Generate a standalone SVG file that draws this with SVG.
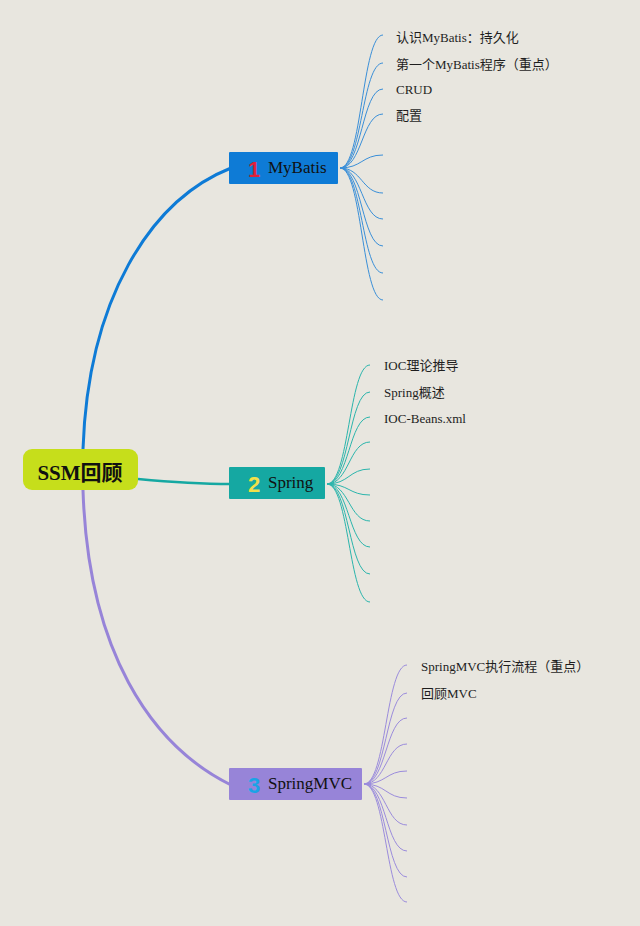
<svg xmlns="http://www.w3.org/2000/svg" width="640" height="926" viewBox="0 0 640 926">
<style>
.leaf{font-family:"Liberation Serif","Noto Sans CJK SC",serif;font-size:13px;fill:#1e1e1e}
.lbl{font-family:"Liberation Serif","Noto Sans CJK SC",serif;font-size:17px;fill:#111}
.root{font-family:"Liberation Serif","Noto Sans CJK SC",serif;font-size:21px;font-weight:bold;fill:#111}
.num{font-family:"Liberation Sans","DejaVu Sans",sans-serif;font-size:22px;font-weight:bold}
.fb{fill:none;stroke:#3a8fd8;stroke-width:1}
.ft{fill:none;stroke:#2bb5ac;stroke-width:1}
.fp{fill:none;stroke:#9b8cdc;stroke-width:1}
</style>
<rect width="640" height="926" fill="#e8e6df"/>
<g id="connectors">
<path d="M83,449 C88,300 150,200 231,168" fill="none" stroke="#0e7bd6" stroke-width="3"/>
<path d="M138,479 C170,482 200,484 231,484" fill="none" stroke="#15a8a2" stroke-width="2.5"/>
<path d="M83,490 C88,650 150,745 231,785" fill="none" stroke="#9784d8" stroke-width="3"/>
<g class="fb">
<path d="M340,168 C362,168 362,35 383,35"/>
<path d="M340,168 C362,168 362,63 383,63"/>
<path d="M340,168 C362,168 362,89 383,89"/>
<path d="M340,168 C362,168 362,114 383,114"/>
<path d="M340,168 C362,168 362,155 383,155"/>
<path d="M340,168 C362,168 362,193 383,193"/>
<path d="M340,168 C362,168 362,219 383,219"/>
<path d="M340,168 C362,168 362,246 383,246"/>
<path d="M340,168 C362,168 362,273 383,273"/>
<path d="M340,168 C362,168 362,300 383,300"/>
</g>
<g class="ft">
<path d="M327,484 C349,484 349,365 370,365"/>
<path d="M327,484 C349,484 349,392 370,392"/>
<path d="M327,484 C349,484 349,417 370,417"/>
<path d="M327,484 C349,484 349,442 370,442"/>
<path d="M327,484 C349,484 349,469 370,469"/>
<path d="M327,484 C349,484 349,495 370,495"/>
<path d="M327,484 C349,484 349,521 370,521"/>
<path d="M327,484 C349,484 349,547 370,547"/>
<path d="M327,484 C349,484 349,574 370,574"/>
<path d="M327,484 C349,484 349,602 370,602"/>
</g>
<g class="fp">
<path d="M364,784 C386,784 386,665 407,665"/>
<path d="M364,784 C386,784 386,693 407,693"/>
<path d="M364,784 C386,784 386,718 407,718"/>
<path d="M364,784 C386,784 386,744 407,744"/>
<path d="M364,784 C386,784 386,771 407,771"/>
<path d="M364,784 C386,784 386,798 407,798"/>
<path d="M364,784 C386,784 386,825 407,825"/>
<path d="M364,784 C386,784 386,851 407,851"/>
<path d="M364,784 C386,784 386,877 407,877"/>
<path d="M364,784 C386,784 386,902 407,902"/>
</g>
</g>
<g id="root">
<rect x="23" y="449" width="115" height="41" rx="9" fill="#c6de1b"/>
<text x="80" y="480" text-anchor="middle" class="root">SSM回顾</text>
</g>
<g id="mybatis">
<rect x="229" y="152" width="109" height="32" rx="1" fill="#0e7bd6"/>
<text x="254" y="177" class="num" fill="#e0213a" text-anchor="middle">1</text>
<text x="268" y="173" class="lbl">MyBatis</text>
</g>
<g id="spring">
<rect x="229" y="467" width="96" height="32" rx="1" fill="#15a8a2"/>
<text x="254" y="492" class="num" fill="#f2e04a" text-anchor="middle">2</text>
<text x="268" y="488" class="lbl">Spring</text>
</g>
<g id="springmvc">
<rect x="229" y="768" width="133" height="32" rx="1" fill="#9784d8"/>
<text x="254" y="793" class="num" fill="#1aa3e6" text-anchor="middle">3</text>
<text x="268" y="789" class="lbl">SpringMVC</text>
</g>
<g id="leaves">
<text x="396" y="42" class="leaf">认识MyBatis：持久化</text>
<text x="396" y="69" class="leaf">第一个MyBatis程序（重点）</text>
<text x="396" y="94" class="leaf">CRUD</text>
<text x="396" y="120" class="leaf">配置</text>
<text x="384" y="370" class="leaf">IOC理论推导</text>
<text x="384" y="397" class="leaf">Spring概述</text>
<text x="384" y="423" class="leaf">IOC-Beans.xml</text>
<text x="421" y="671" class="leaf">SpringMVC执行流程（重点）</text>
<text x="421" y="698" class="leaf">回顾MVC</text>
</g>
</svg>
